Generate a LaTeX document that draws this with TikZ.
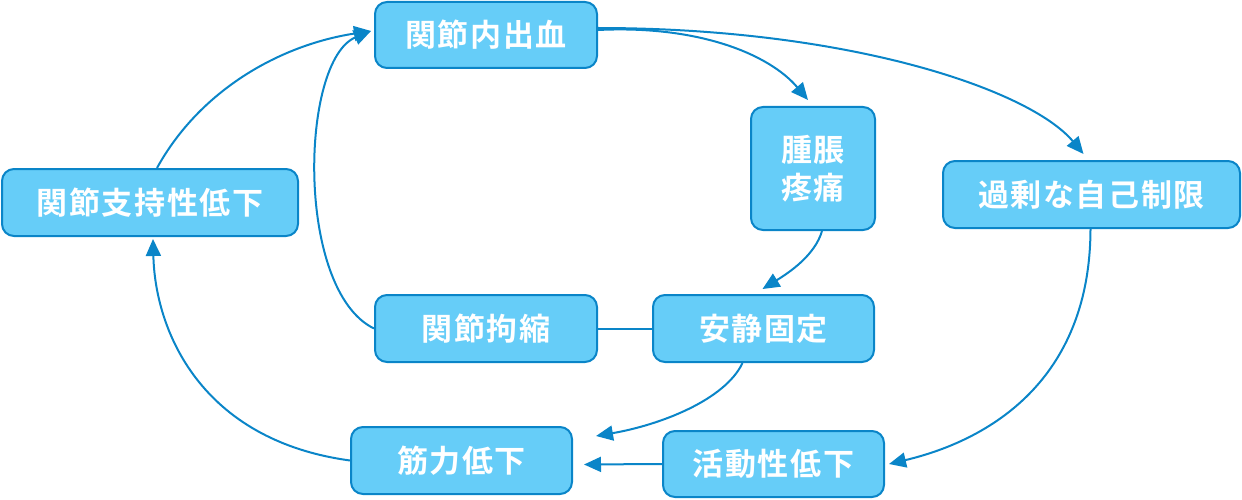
\documentclass[tikz,border=0pt]{standalone}
\usepackage{fontspec}
\newfontfamily\jpfont{Noto Sans CJK JP}[BoldFont={Noto Sans CJK JP Bold},LetterSpace=5]
\usepackage{tikz}
\usetikzlibrary{arrows.meta,positioning,calc}
\usepackage{xcolor}
\definecolor{BoxFill}{HTML}{66CDF8}
\definecolor{BoxLine}{HTML}{0A85C8}
\definecolor{FlowBlue}{HTML}{0A85C8}

\begin{document}
\begin{tikzpicture}[x=1pt,y=-1pt,>={Triangle[length=17pt,width=15pt]},
  box/.style={rounded corners=12pt,fill=BoxFill,draw=BoxLine,line width=2pt,text=white,align=center,inner sep=0pt,font=\jpfont\bfseries\fontsize{31}{38}\selectfont},
  flow/.style={->,draw=FlowBlue,line width=2pt}]
\useasboundingbox (0,0) rectangle (1242,500);
\node[box,minimum width=222pt,minimum height=66pt] (bleed) at (486,35) {関節内出血};
\node[box,minimum width=124pt,minimum height=123pt] (swell) at (813,168.5) {腫脹\\疼痛};
\node[box,minimum width=297pt,minimum height=67pt] (restrict) at (1091.5,194.5) {過剰な自己制限};
\node[box,minimum width=296pt,minimum height=67pt] (support) at (150,202.5) {関節支持性低下};
\node[box,minimum width=222pt,minimum height=67pt] (contract) at (486,328.5) {関節拘縮};
\node[box,minimum width=221pt,minimum height=67pt,right=54pt of contract] (rest) {安静固定};
\node[box,minimum width=221pt,minimum height=67pt] (muscle) at (461.5,460.5) {筋力低下};
\node[box,minimum width=221pt,minimum height=66pt] (activity) at (773.5,464) {活動性低下};
% outer loop
\draw[flow] ([yshift=5pt]bleed.east) .. controls (700,25) and (770,55) .. ([xshift=-5pt,yshift=6pt]swell.north);
\draw[flow] ([yshift=7pt]bleed.east) .. controls (850,28) and (1030,90) .. ([xshift=-8pt,yshift=6pt]restrict.north);
\draw[flow] ([xshift=9pt]swell.south) .. controls (815,255) and (790,272) .. ([xshift=-1pt,yshift=5pt]rest.north);
\draw[flow] ([xshift=-1pt]restrict.south) .. controls (1090,380) and (990,440) .. ([xshift=4pt]activity.east);
\draw[flow] (activity.west) -- ([xshift=11pt,yshift=-4pt]muscle.east);
\draw[flow] ([xshift=-21pt]rest.south) .. controls (725,400) and (660,425) .. ([xshift=23pt,yshift=-10pt]muscle.north east);
\draw[draw=FlowBlue,line width=2pt] (rest.west) -- (contract.east);
% back to bleeding
\draw[flow] (contract.west) .. controls (295,290) and (300,60) .. ([xshift=-3pt,yshift=4pt]bleed.west);
\draw[flow] (muscle.west) .. controls (200,440) and (155,330) .. ([xshift=3pt,yshift=-2pt]support.south);
\draw[flow] ([xshift=7pt]support.north) .. controls (200,90) and (280,45) .. ([xshift=-3pt,yshift=4pt]bleed.west);
\end{tikzpicture}
\end{document}
